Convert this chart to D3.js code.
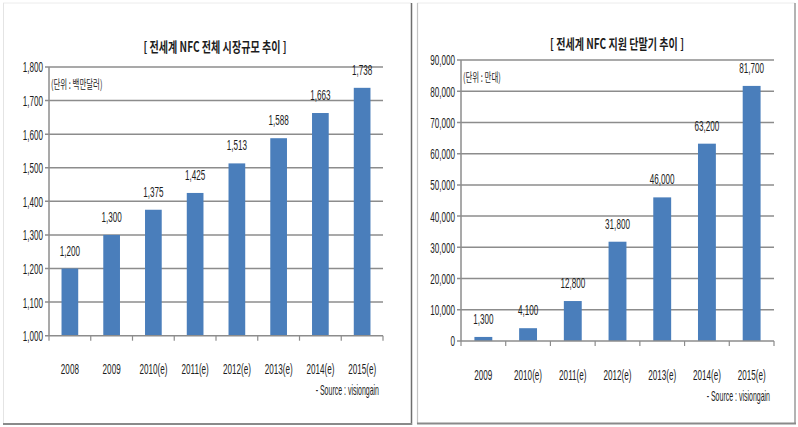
<!DOCTYPE html>
<html><head><meta charset="utf-8">
<script src="https://cdn.jsdelivr.net/npm/d3@7"></script>
<style>body{margin:0;background:#fff}svg{display:block}</style>
</head><body>
<svg id="c" width="798" height="427"></svg>
<script>
// ---- data ----
const marketCategories = ['2008','2009','2010(e)','2011(e)','2012(e)','2013(e)','2014(e)','2015(e)'];
const marketValues = [1200,1300,1375,1425,1513,1588,1663,1738];
const marketTicks = [1000,1100,1200,1300,1400,1500,1600,1700,1800];
const marketTitle = '[ 전세계 NFC 전체 시장규모 추이 ]';
const marketUnit = '(단위 : 백만달러)';

const deviceCategories = ['2009','2010(e)','2011(e)','2012(e)','2013(e)','2014(e)','2015(e)'];
const deviceValues = [1300,4100,12800,31800,46000,63200,81700];
const deviceTicks = [0,10000,20000,30000,40000,50000,60000,70000,80000,90000];
const deviceTitle = '[ 전세계 NFC 지원 단말기 추이 ]';
const deviceUnit = '(단위 : 만대)';

const sourceText = '- Source : visiongain';

// ---- style ----
const FONT = "'Liberation Sans','Noto Sans CJK KR',sans-serif";
const KFONT = "'Noto Sans CJK KR','Liberation Sans',sans-serif";
const BAR = '#4a7ebb';
const GRID = '#8c8c8c';
const INK = '#1c1c1c';
const NUM_SX = 0.58;

const svg = d3.select('#c');
svg.append('rect').attr('width',798).attr('height',427).attr('fill','#fff');

function line(x1,y1,x2,y2,c,w){
  svg.append('line').attr('x1',x1).attr('y1',y1).attr('x2',x2).attr('y2',y2)
    .attr('stroke',c).attr('stroke-width',w);
}
// panel frames
line(3,3,411,3,'#ececec',1);
line(3.5,3,3.5,424,'#e4e4e4',1);
line(411.5,3,411.5,425,'#6e6e6e',1.5);
line(3,424,412,424,'#8a8a8a',2);
line(417,3,795,3,'#ececec',1);
line(417.5,3,417.5,424,'#c4c4c4',1.2);
line(795,3,795,424,'#9a9a9a',1.5);
line(417,423.5,796,423.5,'#8a8a8a',2);

function txt(g,x,y,s,size,sx,anchor,weight,family){
  return g.append('text').attr('transform',`translate(${x},${y}) scale(${sx},1)`)
    .attr('text-anchor',anchor).attr('font-size',size).attr('font-weight',weight||'normal')
    .attr('font-family',family||FONT).attr('fill',INK).text(s);
}

function chart(o){
  const g = svg.append('g');
  const x = d3.scaleBand().domain(o.cats).range([o.x0,o.x1]).paddingInner(0.6).paddingOuter(0.3);
  const y = d3.scaleLinear().domain([o.ticks[0],o.ticks[o.ticks.length-1]]).range([o.yb,o.yt]);
  const fmt = d3.format(',');

  // gridlines
  g.selectAll('line.grid').data(o.ticks.slice(1)).join('line').attr('class','grid')
    .attr('x1',o.x0-4).attr('x2',o.x1).attr('y1',d=>y(d)).attr('y2',d=>y(d))
    .attr('stroke',GRID).attr('stroke-width',1.5);
  // y axis line
  g.append('line').attr('x1',o.x0).attr('x2',o.x0).attr('y1',y.range()[0]).attr('y2',y.range()[1])
    .attr('stroke',GRID).attr('stroke-width',1.5);

  // bars
  g.selectAll('rect.bar').data(o.vals).join('rect').attr('class','bar')
    .attr('x',(d,i)=>x(o.cats[i])).attr('width',x.bandwidth())
    .attr('y',d=>y(d)).attr('height',d=>y(o.ticks[0])-y(d)).attr('fill',BAR);

  // x axis line + boundary ticks
  g.append('line').attr('x1',o.x0-4).attr('x2',o.x1).attr('y1',o.yb).attr('y2',o.yb)
    .attr('stroke',GRID).attr('stroke-width',1.5);
  const bounds = o.cats.map(c=>x(c)-x.step()*0.3).concat([o.x1]);
  g.selectAll('line.xt').data(bounds).join('line').attr('class','xt')
    .attr('x1',d=>d).attr('x2',d=>d).attr('y1',o.yb).attr('y2',o.yb+5)
    .attr('stroke',GRID).attr('stroke-width',1.2);

  // y axis labels
  const ya = g.append('g').attr('transform',`translate(${o.x0},0)`)
    .call(d3.axisLeft(y).tickValues(o.ticks).tickSize(0).tickPadding(0).tickFormat(fmt));
  ya.select('.domain').remove();
  ya.selectAll('text').attr('x',0).attr('dy','0.35em')
    .attr('transform',`translate(-6,0) scale(${NUM_SX},1)`)
    .attr('font-size',14).attr('font-family',FONT).attr('fill',INK);

  // x axis labels
  const xa = g.append('g').attr('transform',`translate(0,${o.yb})`)
    .call(d3.axisBottom(x).tickSize(0).tickPadding(0));
  xa.select('.domain').remove();
  xa.selectAll('text').attr('y',0).attr('dy',0)
    .attr('transform',`translate(0,${o.catY}) scale(${NUM_SX},1)`)
    .attr('font-size',14).attr('font-family',FONT).attr('fill',INK);

  // data labels
  g.selectAll('text.val').data(o.vals).join('text').attr('class','val')
    .attr('transform',(d,i)=>`translate(${x(o.cats[i])+x.bandwidth()/2},${y(d)-13}) scale(${NUM_SX},1)`)
    .attr('text-anchor','middle').attr('font-size',14).attr('font-family',FONT).attr('fill',INK)
    .text(d=>fmt(d));

  // title, unit, source
  txt(g,o.titleX,o.titleY,o.title,14,0.72,'middle','bold',KFONT);
  txt(g,o.x0+2,y(o.ticks[o.ticks.length-1])+22,o.unit,12,0.62,'start','normal',KFONT);
  txt(g,o.x1-4,o.catY+o.yb+21,sourceText,14,0.5,'end','normal',FONT);
}

chart({cats:marketCategories, vals:marketValues, ticks:marketTicks,
  x0:49, x1:383, yb:335.7, yt:67, catY:38, title:marketTitle, titleX:215, titleY:52, unit:marketUnit});
chart({cats:deviceCategories, vals:deviceValues, ticks:deviceTicks,
  x0:461, x1:774, yb:341, yt:60, catY:38.5, title:deviceTitle, titleX:617, titleY:49, unit:deviceUnit});
</script>
</body></html>
